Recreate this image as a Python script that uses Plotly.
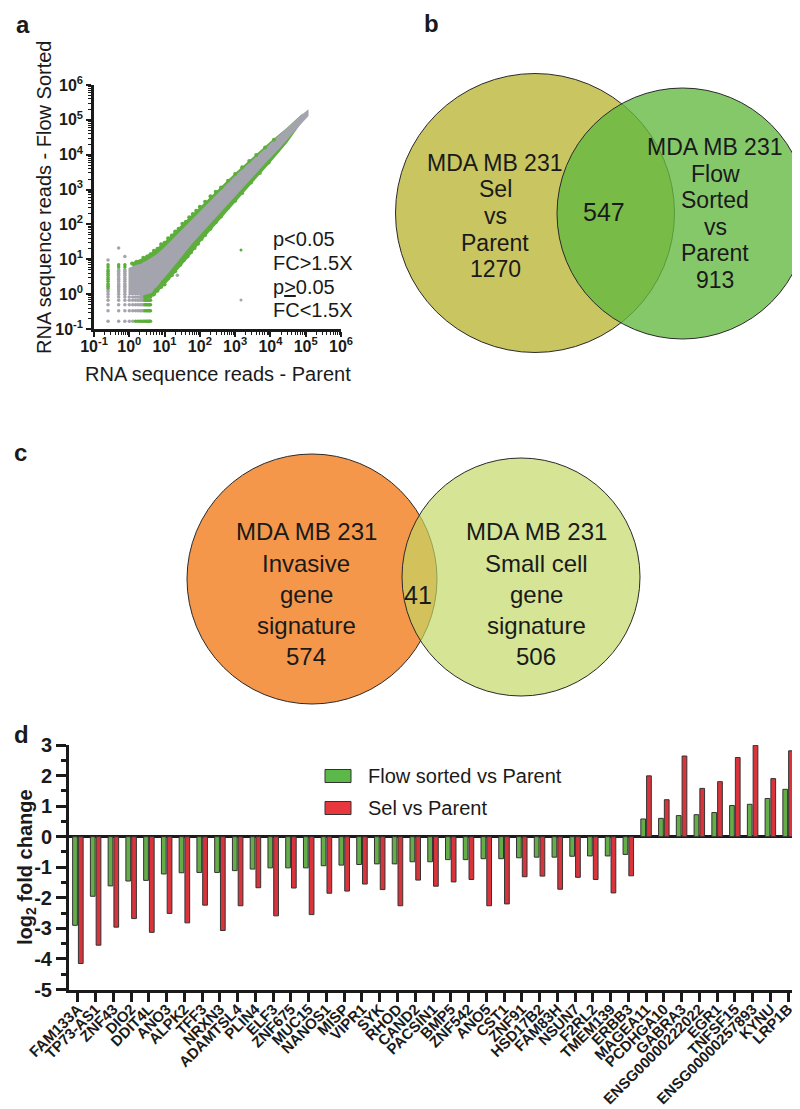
import plotly.graph_objects as go

W, H = 800, 1109
FONT = "Liberation Sans, Arial, Helvetica, sans-serif"
INK = "#1a1a1a"
GREY = "#a4a4ae"
GREEN = "#5dae3c"


def fx(px):  # pixel -> paper x
    return px / W


def fy(py):  # pixel -> paper y
    return 1 - py / H


# ---------------- panel a : reads, Flow Sorted vs Parent ----------------
# grey cloud outline (upper edge, then lower edge back)
grey_cloud_x = [0.95, 1.1, 2, 3, 6, 10, 20, 60, 200, 1000, 5000, 20000, 60000, 120000,
                120000, 60000, 20000, 5000, 1000, 200, 60, 20, 10, 6, 4, 2.5, 0.95]
grey_cloud_y = [5.5, 6, 7.5, 9, 14, 22, 45, 140, 500, 2500, 11000, 42000, 115000, 200000,
                130000, 60000, 17000, 3800, 650, 110, 28, 7, 3, 1.6, 1.0, 0.95, 0.95]

# green (significant) halo around the cloud
green_halo_x = [1.15, 2.5, 5, 10, 20, 50, 100, 200, 500, 1000, 3000, 10000, 30000, 80000,
                80000, 30000, 10000, 3000, 1000, 300, 100, 50, 20, 10, 6, 5, 2.5]
green_halo_y = [8, 11, 18, 32, 65, 160, 320, 650, 1500, 3000, 8000, 24000, 60000, 150000,
                90000, 22000, 6000, 1500, 420, 110, 30, 12, 4, 1.8, 1.1, 0.85, 0.85]

# green points along the upper and lower edge
green_up_x = [1.2, 1.6, 2.0, 2.5, 3.2, 4, 5, 6.3, 8, 10, 12.6, 16, 20, 25, 32, 40, 50, 63,
              79, 100, 141, 200, 282, 398, 631, 1000, 1585, 2512, 3981, 7079, 12589]
green_up_y = [7.6, 8.5, 8.2, 11, 12, 14, 17.5, 20, 27, 30, 40, 48, 63, 75, 105, 120, 160, 200,
              245, 320, 450, 640, 860, 1150, 1800, 2800, 4400, 6600, 9800, 16000, 27000]
green_lo_x = [2.24, 2.8, 3.5, 4.2, 5, 5.6, 6.3, 8, 8.9, 10, 12.6, 16, 20, 22.4, 28, 35.5, 44.7,
              56, 71, 89, 112, 141, 200, 282, 398, 631, 1000, 1585, 2818, 5012, 8913]
green_lo_y = [0.83, 0.79, 0.9, 0.95, 1.0, 1.3, 1.25, 1.6, 2.2, 1.9, 2.8, 3.5, 4.5, 6, 7, 9.5,
              12, 16, 21, 28, 38, 50, 75, 115, 170, 300, 480, 800, 1600, 3000, 6000]

# low-count genes sit on quantised read levels
row_levels = [0.333, 0.5, 0.667, 0.833]
row_grey_x = [0.25, 0.5, 0.75, 1.0, 1.25, 1.5, 1.75, 2.0, 2.25, 2.5]
row_green_x = [2.75, 3.0, 3.25, 3.5, 3.75, 4.0]
bottom_level = 0.167
bottom_grey_x = [0.25, 0.5, 0.75, 1.0, 1.25]
bottom_green_x = [1.5, 1.75, 2.0, 2.25, 2.5, 2.75, 3.0, 3.25, 3.5, 3.75, 4.0]

col_levels = [1.0, 1.17, 1.33, 1.5, 1.67, 1.83, 2.0, 2.33, 2.67, 3.0, 3.5, 4.0, 4.5, 5.0, 6.0, 7.0]
col_x = [0.25, 0.5, 0.75]
col_green_from = [1.5, 6.0, 6.0]     # level where each column turns green

outlier_x = [0.25, 0.5, 0.75, 23]
outlier_y = [9.5, 21, 12, 3.5]

# ---------------- panels b, c : Venn counts ----------------
sel_only, sel_flow_both, flow_only = 1270, 547, 913
inv_only, inv_small_both, small_only = 574, 41, 506

# ---------------- panel d : log2 fold change ----------------
genes = ["FAM133A", "TP73-AS1", "ZNF43", "DIO2", "DDIT4L", "ANO3", "ALPK2", "TFF3",
         "NRXN3", "ADAMTSL4", "PLIN4", "ELF3", "ZNF675", "MUC15", "NANOS1", "MISP",
         "VIPR1", "SYK", "RHOD", "CAND2", "PACSIN1", "BMP5", "ZNF542", "ANO5", "CST1",
         "ZNF91", "HSD17B2", "FAM83H", "NSUN7", "F2RL2", "TMEM139", "ERBB3", "MAGEA11",
         "PCDHGA10", "GABRA3", "ENSG00000222022", "EGR1", "TNFSF15", "ENSG00000257893",
         "KYNU", "LRP1B"]
flow_fc = [-2.90, -1.95, -1.61, -1.45, -1.43, -1.22, -1.18, -1.17, -1.17, -1.11, -1.06,
           -1.02, -1.02, -1.02, -0.95, -0.93, -0.91, -0.89, -0.89, -0.82, -0.82, -0.75,
           -0.75, -0.72, -0.72, -0.69, -0.67, -0.67, -0.64, -0.63, -0.63, -0.58,
           0.58, 0.60, 0.69, 0.72, 0.79, 1.02, 1.06, 1.25, 1.55]
sel_fc = [-4.15, -3.55, -2.96, -2.68, -3.13, -2.51, -2.82, -2.24, -3.07, -2.26, -1.67,
          -2.59, -1.68, -2.55, -1.85, -1.78, -1.55, -1.73, -2.26, -1.42, -1.62, -1.48,
          -1.40, -2.26, -2.20, -1.31, -1.29, -1.72, -1.33, -1.40, -1.84, -1.28,
          1.99, 1.21, 2.64, 1.58, 1.80, 2.59, 2.99, 1.90, 2.81]
fc_ticks = [-5, -4, -3, -2, -1, 0, 1, 2, 3]

# ---- assemble quantised point sets ----
low_grey_x, low_grey_y, low_green_x, low_green_y = [], [], [], []
for lv in row_levels:
    low_grey_x += row_grey_x
    low_grey_y += [lv] * len(row_grey_x)
    low_green_x += row_green_x
    low_green_y += [lv] * len(row_green_x)
low_grey_x += bottom_grey_x
low_grey_y += [bottom_level] * len(bottom_grey_x)
low_green_x += bottom_green_x
low_green_y += [bottom_level] * len(bottom_green_x)
for cx, g0 in zip(col_x, col_green_from):
    for lv in col_levels:
        if lv >= g0:
            low_green_x.append(cx)
            low_green_y.append(lv)
        else:
            low_grey_x.append(cx)
            low_grey_y.append(lv)

fig = go.Figure()

fig.add_trace(go.Scatter(x=green_halo_x, y=green_halo_y, mode="lines", fill="toself",
                         fillcolor=GREEN, line=dict(width=0), hoverinfo="skip"))
fig.add_trace(go.Scatter(x=grey_cloud_x, y=grey_cloud_y, mode="lines", fill="toself",
                         fillcolor=GREY, line=dict(width=0), hoverinfo="skip"))
fig.add_trace(go.Scatter(x=green_up_x + green_lo_x, y=green_up_y + green_lo_y, mode="markers",
                         marker=dict(color=GREEN, size=4)))
fig.add_trace(go.Scatter(x=low_grey_x + outlier_x, y=low_grey_y + outlier_y, mode="markers",
                         marker=dict(color=GREY, size=3.5)))
fig.add_trace(go.Scatter(x=low_green_x, y=low_green_y, mode="markers",
                         marker=dict(color=GREEN, size=3.5)))

# panel d bars
fig.add_trace(go.Bar(x=genes, y=flow_fc, name="Flow sorted vs Parent", xaxis="x2", yaxis="y2",
                     marker=dict(color="#64ad48", line=dict(color="#333333", width=1))))
fig.add_trace(go.Bar(x=genes, y=sel_fc, name="Sel vs Parent", xaxis="x2", yaxis="y2",
                     marker=dict(color="#d9343c", line=dict(color="#333333", width=1))))

pow_text = {-1: "10<sup>-1</sup>", 0: "10<sup>0</sup>", 1: "10<sup>1</sup>", 2: "10<sup>2</sup>",
            3: "10<sup>3</sup>", 4: "10<sup>4</sup>", 5: "10<sup>5</sup>", 6: "10<sup>6</sup>"}
log_axis = dict(type="log", range=[-1, 6], tickmode="array", automargin=False,
                tickvals=[10 ** k for k in pow_text], ticktext=list(pow_text.values()),
                showline=True, linecolor=INK, linewidth=2.5, ticks="outside", ticklen=5,
                tickwidth=2, tickcolor=INK, showgrid=False, zeroline=False,
                tickfont=dict(family=FONT, size=16, color=INK, weight="bold"),
                minor=dict(dtick="D1", ticks="outside", ticklen=3, tickwidth=1.2, tickcolor=INK))

shapes = []
annotations = []


def label(text, px, py, size, bold=False, anchor="center", angle=0, valign="middle"):
    annotations.append(dict(text=text, x=fx(px), y=fy(py), xref="paper", yref="paper",
                            showarrow=False, xanchor=anchor, yanchor=valign, textangle=angle,
                            font=dict(family=FONT, size=size, color=INK,
                                      weight="bold" if bold else "normal")))


def circle(cx, cy, r, fill):
    shapes.append(dict(type="circle", xref="paper", yref="paper",
                       x0=fx(cx - r), x1=fx(cx + r), y0=fy(cy + r), y1=fy(cy - r),
                       fillcolor=fill, line=dict(color="#2a2a2a", width=1), layer="below"))


# panel letters
label("a", 15, 17, 24, bold=True)
label("b", 423, 15, 24, bold=True)
label("c", 12, 445, 24, bold=True)
label("d", 13, 726, 24, bold=True)

# panel a titles and legend
label("RNA sequence reads - Parent", 210, 366, 20)
label("RNA sequence reads - Flow Sorted", 36, 189, 20, angle=-90)
label("p&lt;0.05", 263, 231, 20, anchor="left")
label("FC&gt;1.5X", 263, 255, 20, anchor="left")
label("p<u>&gt;</u>0.05", 263, 279, 20, anchor="left")
label("FC&lt;1.5X", 263, 302, 20, anchor="left")
for cy, col in [(242, GREEN), (292, GREY)]:
    shapes.append(dict(type="circle", xref="paper", yref="paper", x0=fx(231.5), x1=fx(234.5),
                       y0=fy(cy + 1.5), y1=fy(cy - 1.5), fillcolor=col, line=dict(width=0)))

# panel b venn
circle(527, 205, 139.5, "#c9c561")
circle(674.5, 205.5, 125.5, "rgba(99,185,64,0.78)")
for i, t in enumerate(["MDA MB 231", "Sel", "vs", "Parent", str(sel_only)]):
    label(t, 487, 155 + 26.5 * i, 23)
for i, t in enumerate(["MDA MB 231", "Flow", "Sorted", "vs", "Parent", str(flow_only)]):
    label(t, 707, 139 + 26.6 * i, 23)
label(str(sel_flow_both), 596, 204, 25)

# panel c venn
circle(304, 571, 125, "#f5974b")
circle(513, 569, 119, "rgba(195,215,100,0.68)")
for i, t in enumerate(["MDA MB 231", "Invasive", "gene", "signature", str(inv_only)]):
    label(t, 298, 524 + 31 * i, 24)
for i, t in enumerate(["MDA MB 231", "Small cell", "gene", "signature", str(small_only)]):
    label(t, 528, 524 + 31 * i, 24)
label(str(inv_small_both), 410, 587, 25)

# panel d legend and y title
for cy, col, name in [(768, "#5cb848", "Flow sorted vs Parent"), (800, "#e8383d", "Sel vs Parent")]:
    shapes.append(dict(type="rect", xref="paper", yref="paper", x0=fx(317), x1=fx(343),
                       y0=fy(cy + 6.5), y1=fy(cy - 6.5), fillcolor=col,
                       line=dict(color="#333333", width=1)))
    label(name, 358, cy, 20, anchor="left")
label("log<sub>2</sub> fold change", 18, 859, 20, bold=True, angle=-90)

fig.update_layout(
    template="none",
    width=W, height=H,
    margin=dict(l=0, r=0, t=0, b=0, pad=0, autoexpand=False),
    paper_bgcolor="white", plot_bgcolor="white",
    showlegend=False,
    font=dict(family=FONT, color=INK),
    barmode="group", bargap=0.35, bargroupgap=0.18,
    xaxis=dict(domain=[fx(86), fx(333)], anchor="y", ticklabelstandoff=-4, **log_axis),
    yaxis=dict(domain=[fy(321), fy(77)], anchor="x", **log_axis),
    xaxis2=dict(domain=[fx(61), fx(789)], anchor="y2", type="category", range=[-0.5, 40.5],
                tickmode="array", tickvals=genes, ticktext=genes, automargin=False,
                showline=True, linecolor=INK, linewidth=3, ticks="outside", ticklen=9,
                tickwidth=3, tickcolor=INK, tickangle=-45, showgrid=False,
                ticklabelstandoff=-7,
                tickfont=dict(family=FONT, size=15, color=INK, weight="bold")),
    yaxis2=dict(domain=[fy(981.5), fy(737)], anchor="x2", range=[-5, 3], automargin=False,
                tickmode="array", tickvals=fc_ticks, ticktext=[str(v) for v in fc_ticks],
                showline=True, linecolor=INK, linewidth=3, ticks="outside", ticklen=10,
                tickwidth=3, tickcolor=INK, showgrid=False,
                zeroline=True, zerolinecolor=INK, zerolinewidth=3,
                tickfont=dict(family=FONT, size=20, color=INK, weight="bold"),
                minor=dict(tickmode="linear", tick0=0, dtick=0.5, ticks="outside", ticklen=5,
                           tickwidth=3, tickcolor=INK)),
    shapes=shapes,
    annotations=annotations,
)

fig.write_html("out.html")
